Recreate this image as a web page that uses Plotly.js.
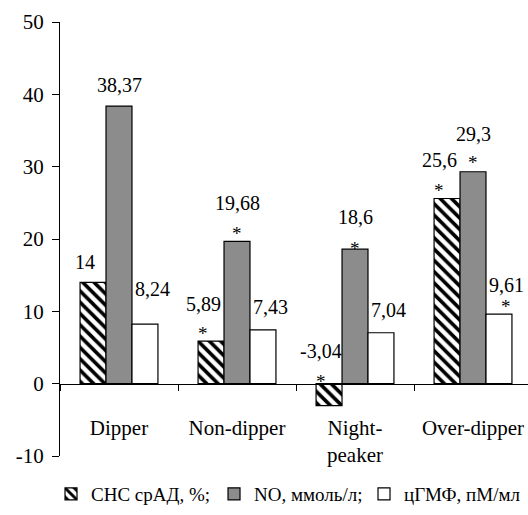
<!DOCTYPE html>
<html>
<head>
<meta charset="utf-8">
<script src="https://cdn.plot.ly/plotly-3.0.1.min.js"></script>
<style>
html,body{margin:0;padding:0;background:#fff;}
#chart{width:528px;height:515px;}
svg text{font-family:"Liberation Serif","Times New Roman",serif !important;}
</style>
</head>
<body>
<div id="chart"></div>
<script>
// ---- data ----
const categories = ["Dipper", "Non-dipper", "Night-<br>peaker", "Over-dipper"];
const seriesNames = ["СНС срАД, %;", "NO, ммоль/л;", "цГМФ, пМ/мл"];
const snsValues  = [14, 5.89, -3.04, 25.6];
const noValues   = [38.37, 19.68, 18.6, 29.3];
const cgmpValues = [8.24, 7.43, 7.04, 9.61];
const snsLabels  = ["14", "5,89", "-3,04", "25,6"];
const noLabels   = ["38,37", "19,68", "18,6", "29,3"];
const cgmpLabels = ["8,24", "7,43", "7,04", "9,61"];
const snsStars   = [false, true, true, true];
const noStars    = [false, true, true, true];
const cgmpStars  = [false, false, false, true];
const yTicks = [-10, 0, 10, 20, 30, 40, 50];

// ---- style ----
const labelLift = [[20, 37, 33, 38], [21, 38, 32, 38], [35, 23, 23, 29]];
const starLift  = [[0, 14, 8, 14], [0, 14, 7, 15], [0, 0, 0, 14]];
const labelShiftX = [-8, 0, 7];
const barPx = 26;
const legendWidths = [118, 105, 115];
const FONT = "Liberation Serif";

const values = [snsValues, noValues, cgmpValues];
const labels = [snsLabels, noLabels, cgmpLabels];
const stars = [snsStars, noStars, cgmpStars];

const traces = [
  {type: "bar", name: seriesNames[0], x: categories, y: snsValues, legendwidth: legendWidths[0],
   marker: {color: "#ffffff", line: {color: "#000", width: 1.2},
            pattern: {shape: "\\", fgcolor: "#000", bgcolor: "#fff", size: 8, solidity: 0.45}}},
  {type: "bar", name: seriesNames[1], x: categories, y: noValues, legendwidth: legendWidths[1],
   marker: {color: "#8c8c8c", line: {color: "#000", width: 1.2}}},
  {type: "bar", name: seriesNames[2], x: categories, y: cgmpValues, legendwidth: legendWidths[2],
   marker: {color: "#ffffff", line: {color: "#000", width: 1.2}}}
];

const annotations = [];
for (let s = 0; s < 3; s++) {
  for (let i = 0; i < categories.length; i++) {
    const top = Math.max(values[s][i], 0);
    annotations.push({x: categories[i], y: top, xref: "x", yref: "y",
      text: labels[s][i], showarrow: false, xshift: (s - 1) * barPx + labelShiftX[s],
      yanchor: "middle", yshift: labelLift[s][i],
      font: {family: FONT, size: 20, color: "#000000"}});
    if (stars[s][i]) {
      annotations.push({x: categories[i], y: top, xref: "x", yref: "y",
        text: "*", showarrow: false, xshift: (s - 1) * barPx + labelShiftX[s],
        yanchor: "middle", yshift: starLift[s][i] - 6,
        font: {family: FONT, size: 19, color: "#000000"}});
    }
  }
}

const layout = {
  width: 528, height: 515,
  margin: {l: 60, r: 0, t: 22, b: 59},
  paper_bgcolor: "#ffffff", plot_bgcolor: "#ffffff",
  barmode: "group", bargap: 0.34, bargroupgap: 0,
  showlegend: true,
  legend: {orientation: "h", x: -0.0192, xanchor: "left", y: -0.0876, yanchor: "middle",
           font: {family: FONT, size: 19, color: "#000000"}, traceorder: "normal"},
  xaxis: {type: "category", range: [-0.5, 3.466], anchor: "free", position: 1/6,
          showline: true, linecolor: "#000000", linewidth: 1,
          ticks: "outside", tickson: "boundaries", ticklen: 6, tickcolor: "#000000",
          tickangle: 0, ticklabelstandoff: 25, showgrid: false, zeroline: false, automargin: false,
          tickfont: {family: FONT, size: 21, color: "#000000"}},
  yaxis: {range: [-10, 50], tickvals: yTicks, ticktext: yTicks.map(String),
          showline: true, linecolor: "#000000", linewidth: 1,
          ticks: "outside", ticklen: 7, tickcolor: "#000000", ticklabelstandoff: 4,
          showgrid: false, zeroline: false, automargin: false,
          tickfont: {family: FONT, size: 21, color: "#000000"}},
  annotations: annotations
};

Plotly.newPlot("chart", traces, layout, {staticPlot: true});
</script>
</body>
</html>
